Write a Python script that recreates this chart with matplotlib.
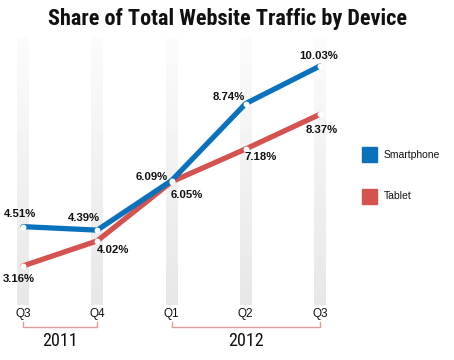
import numpy as np
import matplotlib
matplotlib.use('Agg')
import matplotlib.pyplot as plt
import matplotlib.transforms as mtransforms
from matplotlib import font_manager

# dados
quarters = ['Q3', 'Q4', 'Q1', 'Q2', 'Q3']
smartphone = [4.51, 4.39, 6.09, 8.74, 10.03]
tablet = [3.16, 4.02, 6.05, 7.18, 8.37]
years = ['2011', '2012']
year_spans = [(0, 1), (2, 4)]

blue = '#0a72bd'
red = '#d4524f'
bracket = '#e59a9a'

# fonte estreita se houver
nomes = {f.name for f in font_manager.fontManager.ttflist}
estreita = None
for cand in ['Liberation Sans Narrow', 'Roboto Condensed', 'Open Sans Condensed',
             'DejaVu Sans Condensed']:
    if cand in nomes:
        estreita = cand
        break

W, H = 454, 360
fig = plt.figure(figsize=(W / 100, H / 100), dpi=100)
ax = fig.add_axes([0, 0, 1, 1])
ax.axis('off')

# escala: x0 em 23px, 74.25px por trimestre; y 10.03 em 66px, 29.1px por ponto
x_px0, x_step = 23, 74.25
y_ref, y_px_ref, y_step = 10.03, 66, 29.1

def fy(py):
    return 1 - py / H

xs = np.arange(len(quarters))

# barras cinza com degradê (claro em cima, cinza embaixo)
grad = np.linspace(0.985, 0.905, 200)[:, None]
bar_top = y_ref + (y_px_ref - 37) / y_step
bar_bot = y_ref - (305 - y_px_ref) / y_step
bw = 12 / x_step
for x in xs:
    ax.imshow(grad, extent=(x - bw / 2, x + bw / 2, bar_bot, bar_top),
              cmap='gray', vmin=0, vmax=1, aspect='auto',
              origin='upper', zorder=1)

ax.set_xlim(-x_px0 / x_step, (W - x_px0) / x_step)
ax.set_ylim(y_ref - (H - y_px_ref) / y_step, y_ref + y_px_ref / y_step)

# linhas
for serie, cor in [(tablet, red), (smartphone, blue)]:
    ax.plot(xs, serie, color=cor, lw=3.8, solid_capstyle='round',
            solid_joinstyle='round', zorder=3)
    ax.plot(xs, serie, 'o', ms=3.2, mfc='white', mec='white', zorder=4)

# rótulos
off_s = [(-3, 13), (-13, 12), (-20, 4), (-17, 7), (-1, 10)]
off_t = [(-4, -13), (16, -9), (15, -13), (15, -8), (2, -16)]
for serie, offs in [(smartphone, off_s), (tablet, off_t)]:
    for x, v, (dx, dy) in zip(xs, serie, offs):
        ax.annotate(f'{v:.2f}%', (x, v), xytext=(dx, dy),
                    textcoords='offset pixels', ha='center', va='center',
                    fontsize=8.2, fontweight='bold', family='Liberation Sans',
                    color='#111111', zorder=5)

# eixo x
trans = mtransforms.blended_transform_factory(ax.transData, fig.transFigure)
for x, q in zip(xs, quarters):
    ax.text(x, fy(314), q, transform=trans, ha='center', va='center',
            fontsize=8.5, family='Liberation Sans', color='#111111')

fonte_ano = estreita if estreita else 'Liberation Sans'
tam_ano = 13 if estreita else 11
for (a, b), ano in zip(year_spans, years):
    ax.plot([a, a, b, b], [fy(322), fy(327), fy(327), fy(322)],
            transform=trans, color=bracket, lw=1.0, clip_on=False)
    ax.text((a + b) / 2, fy(341), ano, transform=trans, ha='center',
            va='center', fontsize=tam_ano, family=fonte_ano, color='#111111')

# título
if estreita:
    fig.text(0.5, fy(19), 'Share of Total Website Traffic by Device',
             ha='center', va='center', fontsize=16, fontweight='bold',
             family=estreita, color='#111111')
else:
    fig.text(0.5, fy(19), 'Share of Total Website Traffic by Device',
             ha='center', va='center', fontsize=12.5, fontweight='bold',
             family='Liberation Sans', color='#111111')

# legenda
for (nome, cor, py) in [('Smartphone', blue, 154.5), ('Tablet', red, 196.5)]:
    fig.patches.append(plt.Rectangle((362 / W, fy(py + 7.5)), 15 / W, 15 / H,
                                     transform=fig.transFigure, color=cor))
    fig.text(384 / W, fy(py), nome, ha='left', va='center', fontsize=7.5,
             family='Liberation Sans', color='#111111')

fig.savefig('out.png', dpi=100)
